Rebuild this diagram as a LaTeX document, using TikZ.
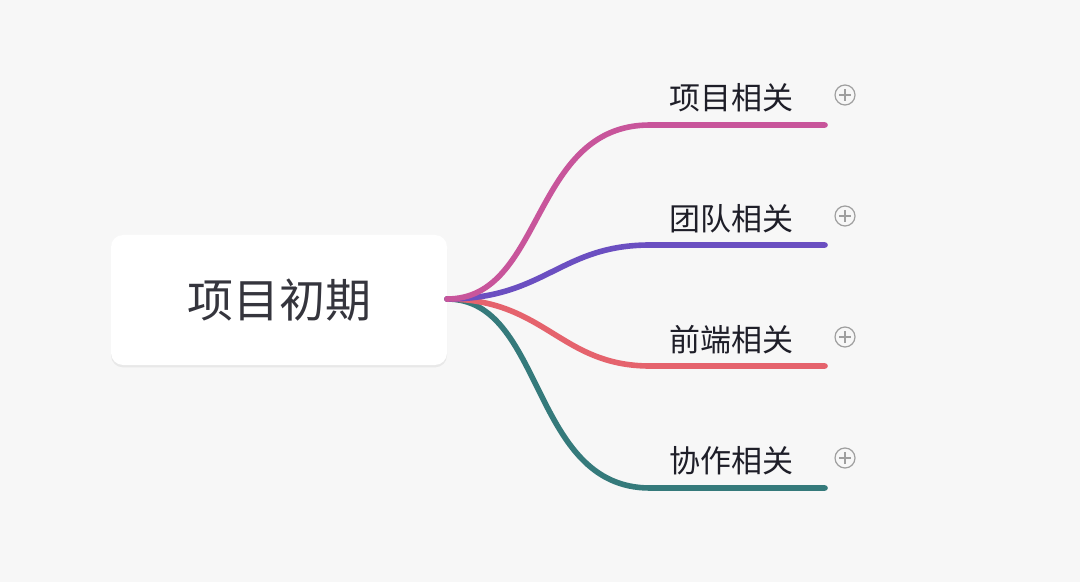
\documentclass[tikz,border=0pt]{standalone}
\usepackage{fontspec}
\newfontfamily\cjk{Noto Sans CJK SC}
\usetikzlibrary{shadows}
\definecolor{bgcol}{HTML}{F7F7F7}
\definecolor{pinkcol}{HTML}{C8559B}
\definecolor{purplecol}{HTML}{6B4FC1}
\definecolor{redcol}{HTML}{E5636D}
\definecolor{tealcol}{HTML}{357A7B}
\definecolor{txtcol}{HTML}{1E1E28}
\tikzset{
  rootbox/.style={fill=white,rounded corners=6pt,minimum width=168pt,minimum height=65pt,
    drop shadow={opacity=0.12,shadow xshift=0pt,shadow yshift=-1.2pt},
    font=\cjk\fontsize{23}{28}\selectfont,text=txtcol!90},
  topic/.style={anchor=east,inner sep=0pt,font=\cjk\fontsize{15.5}{19}\selectfont,text=txtcol},
  branch/.style={line width=2.8pt,line cap=round},
  plusmark/.style={circle,draw=gray!75,line width=0.6pt,minimum size=10pt,inner sep=0pt}
}
\begin{document}
\begin{tikzpicture}[x=0.5pt,y=-0.5pt]
  \fill[bgcol] (0,0) rectangle (1080,582);
  \useasboundingbox (0,0) rectangle (1080,582);
  \node[rootbox] (root) at (279,300) {项目初期};
  \coordinate (O) at (447,299);
  % ends of branches
  \coordinate (A) at (825,125);
  \coordinate (B) at (825,245);
  \coordinate (C) at (825,366);
  \coordinate (D) at (825,488);
  \node[topic] (a) at (794,98) {项目相关};
  \node[topic] (b) at (794,219) {团队相关};
  \node[topic] (c) at (794,340) {前端相关};
  \node[topic] (d) at (794,461) {协作相关};
  \draw[branch,tealcol] (O) .. controls (545,299) and (530,488) .. (650,488) -- (D);
  \draw[branch,redcol] (O) .. controls (545,299) and (560,366) .. (650,366) -- (C);
  \draw[branch,purplecol] (O) .. controls (545,299) and (560,245) .. (650,245) -- (B);
  \draw[branch,pinkcol] (O) .. controls (545,299) and (530,125) .. (650,125) -- (A);
  \foreach \n/\y in {pa/95,pb/216,pc/337,pd/458}{
    \node[plusmark] (\n) at (845,\y) {};
    \draw[gray!75,line width=0.6pt] ([xshift=-3pt]\n.center) -- ([xshift=3pt]\n.center)
      ([yshift=-3pt]\n.center) -- ([yshift=3pt]\n.center);
  }
\end{tikzpicture}
\end{document}
